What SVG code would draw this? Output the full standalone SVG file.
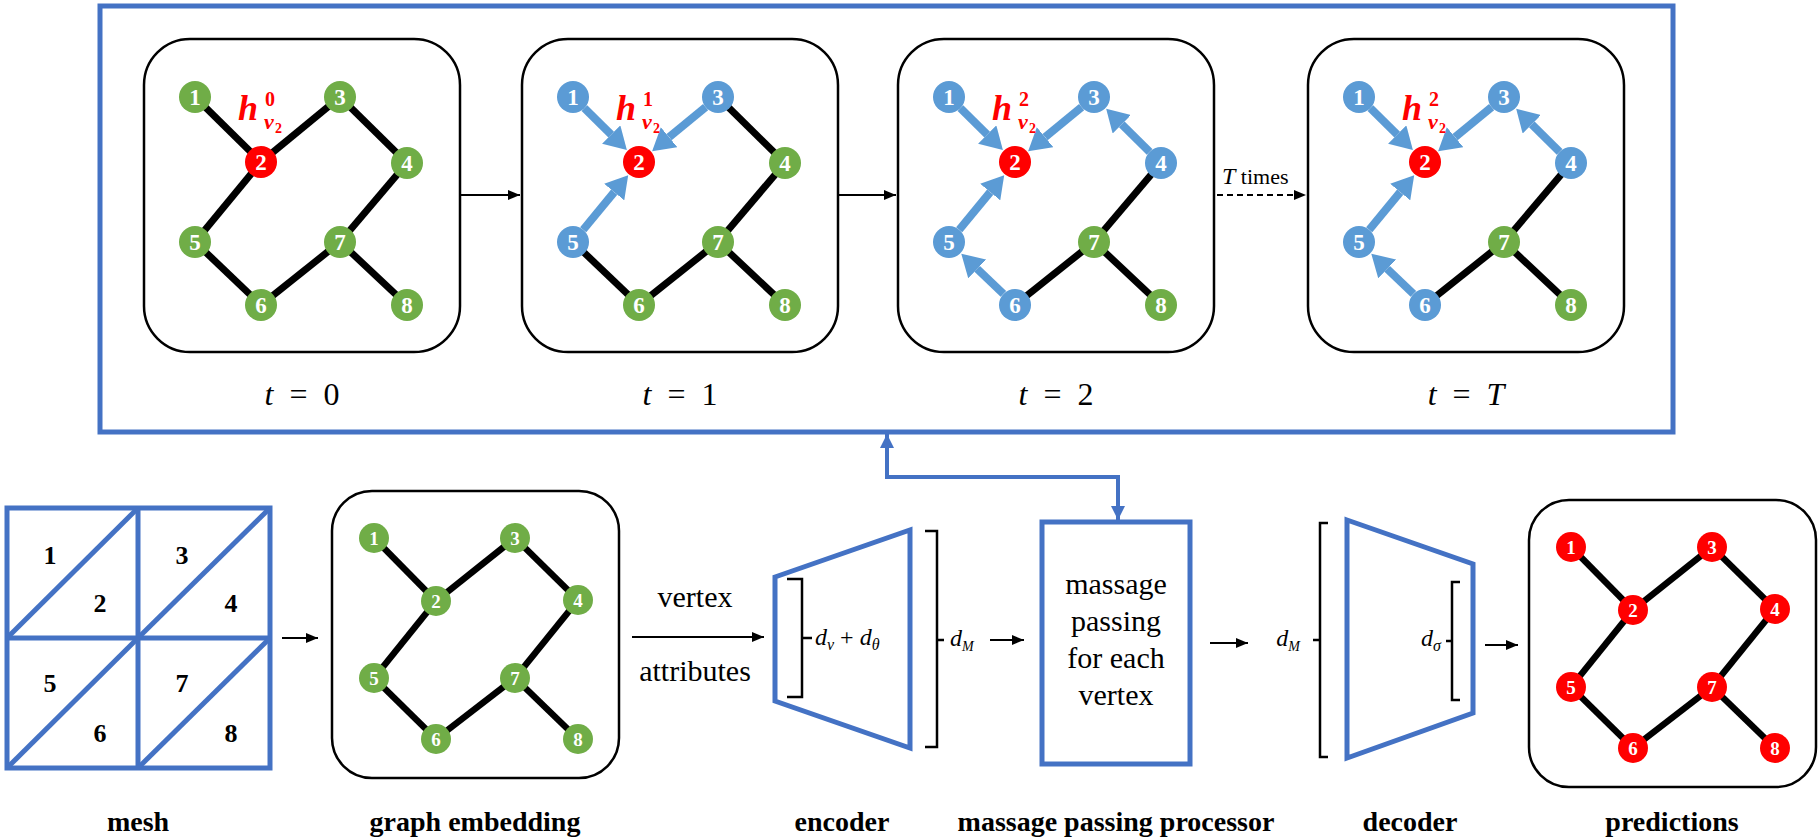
<svg xmlns="http://www.w3.org/2000/svg" width="1820" height="840" viewBox="0 0 1820 840">
<defs>
<marker id="bhead" markerUnits="userSpaceOnUse" viewBox="0 -13 22 26" markerWidth="22" markerHeight="26" refX="0" refY="0" orient="auto"><path d="M0,-13 L22,0 L0,13 Z" fill="#5B9BD5"/></marker>
<marker id="khead" markerUnits="userSpaceOnUse" viewBox="0 -5 12 10" markerWidth="12" markerHeight="10" refX="12" refY="0" orient="auto"><path d="M0,-5 L12,0 L0,5 Z" fill="#000"/></marker>
<marker id="fhead" markerUnits="userSpaceOnUse" viewBox="0 -7 14 14" markerWidth="14" markerHeight="14" refX="14" refY="0" orient="auto-start-reverse"><path d="M0,-7 L14,0 L0,7 Z" fill="#4472C4"/></marker>
</defs>
<style>
.panel{fill:#fff;stroke:#000;stroke-width:2.5}
.edge{stroke:#000;stroke-width:7}
.sedge{stroke:#000;stroke-width:6.5}
.barrow{stroke:#5B9BD5;stroke-width:8;marker-end:url(#bhead)}
.karrow{stroke:#000;stroke-width:2;fill:none;marker-end:url(#khead)}
.gr{fill:#70AD47}.bl{fill:#5B9BD5}.rd{fill:#FF0000}
.nl{font-family:"Liberation Serif",serif;font-weight:bold;fill:#fff;font-size:23px;text-anchor:middle}
.snl{font-family:"Liberation Serif",serif;font-weight:bold;fill:#fff;font-size:19px;text-anchor:middle}
.hl{font-family:"Liberation Serif",serif;font-weight:bold;fill:#FF0000;font-size:36px;font-style:italic}
.tl{font-family:"Liberation Serif",serif;font-size:32px;text-anchor:middle;word-spacing:8px}
.lab{font-family:"Liberation Serif",serif;font-weight:bold;font-size:28px;text-anchor:middle}
.txt{font-family:"Liberation Serif",serif;font-size:30px;text-anchor:middle}
.math{font-family:"Liberation Serif",serif;font-size:24px;font-style:italic}
.blue{fill:none;stroke:#4472C4;stroke-width:5}
.brk{fill:none;stroke:#000;stroke-width:2.5}
.meshn{font-family:"Liberation Serif",serif;font-weight:bold;font-size:26px;text-anchor:middle}
</style>

<g id="frame"><rect x="100" y="6" width="1573" height="426" class="blue"/></g>

<!-- panel t=0 -->
<g id="panel-t0" transform="translate(144,39)">
<rect width="316" height="313" rx="46" class="panel"/>
<line class="edge" x1="51" y1="58" x2="117" y2="123"/>
<line class="edge" x1="117" y1="123" x2="196" y2="58"/>
<line class="edge" x1="196" y1="58" x2="263" y2="124"/>
<line class="edge" x1="117" y1="123" x2="51" y2="203"/>
<line class="edge" x1="263" y1="124" x2="196" y2="203"/>
<line class="edge" x1="51" y1="203" x2="117" y2="266"/>
<line class="edge" x1="117" y1="266" x2="196" y2="203"/>
<line class="edge" x1="196" y1="203" x2="263" y2="266"/>
<g id="t0-n1"><circle cx="51" cy="58" r="16" class="gr"/><text class="nl" x="51" y="66">1</text></g>
<g id="t0-n2"><circle cx="117" cy="123" r="16" class="rd"/><text class="nl" x="117" y="131">2</text></g>
<g id="t0-n3"><circle cx="196" cy="58" r="16" class="gr"/><text class="nl" x="196" y="66">3</text></g>
<g id="t0-n4"><circle cx="263" cy="124" r="16" class="gr"/><text class="nl" x="263" y="132">4</text></g>
<g id="t0-n5"><circle cx="51" cy="203" r="16" class="gr"/><text class="nl" x="51" y="211">5</text></g>
<g id="t0-n6"><circle cx="117" cy="266" r="16" class="gr"/><text class="nl" x="117" y="274">6</text></g>
<g id="t0-n7"><circle cx="196" cy="203" r="16" class="gr"/><text class="nl" x="196" y="211">7</text></g>
<g id="t0-n8"><circle cx="263" cy="266" r="16" class="gr"/><text class="nl" x="263" y="274">8</text></g>
<text class="hl" x="94" y="81">h<tspan x="121" y="67" font-size="20" font-style="normal">0</tspan><tspan x="120" y="90" font-size="22">v</tspan><tspan x="131" y="94" font-size="14" font-style="normal">2</tspan></text>
</g>
<text class="tl" x="302" y="405"><tspan font-style="italic">t</tspan> = 0</text>

<!-- panel t=1 -->
<g id="panel-t1" transform="translate(522,39)">
<rect width="316" height="313" rx="46" class="panel"/>
<line class="edge" x1="196" y1="58" x2="263" y2="124"/>
<line class="edge" x1="263" y1="124" x2="196" y2="203"/>
<line class="edge" x1="51" y1="203" x2="117" y2="266"/>
<line class="edge" x1="117" y1="266" x2="196" y2="203"/>
<line class="edge" x1="196" y1="203" x2="263" y2="266"/>
<line class="barrow" x1="62.4" y1="69.2" x2="89.2" y2="95.6"/>
<line class="barrow" x1="183.6" y1="68.2" x2="147.1" y2="98.2"/>
<line class="barrow" x1="61.2" y1="190.7" x2="92.2" y2="153.1"/>
<g id="t1-n1"><circle cx="51" cy="58" r="16" class="bl"/><text class="nl" x="51" y="66">1</text></g>
<g id="t1-n2"><circle cx="117" cy="123" r="16" class="rd"/><text class="nl" x="117" y="131">2</text></g>
<g id="t1-n3"><circle cx="196" cy="58" r="16" class="bl"/><text class="nl" x="196" y="66">3</text></g>
<g id="t1-n4"><circle cx="263" cy="124" r="16" class="gr"/><text class="nl" x="263" y="132">4</text></g>
<g id="t1-n5"><circle cx="51" cy="203" r="16" class="bl"/><text class="nl" x="51" y="211">5</text></g>
<g id="t1-n6"><circle cx="117" cy="266" r="16" class="gr"/><text class="nl" x="117" y="274">6</text></g>
<g id="t1-n7"><circle cx="196" cy="203" r="16" class="gr"/><text class="nl" x="196" y="211">7</text></g>
<g id="t1-n8"><circle cx="263" cy="266" r="16" class="gr"/><text class="nl" x="263" y="274">8</text></g>
<text class="hl" x="94" y="81">h<tspan x="121" y="67" font-size="20" font-style="normal">1</tspan><tspan x="120" y="90" font-size="22">v</tspan><tspan x="131" y="94" font-size="14" font-style="normal">2</tspan></text>
</g>
<text class="tl" x="680" y="405"><tspan font-style="italic">t</tspan> = 1</text>

<!-- panel t=2 -->
<g id="panel-t2" transform="translate(898,39)">
<rect width="316" height="313" rx="46" class="panel"/>
<line class="edge" x1="263" y1="124" x2="196" y2="203"/>
<line class="edge" x1="117" y1="266" x2="196" y2="203"/>
<line class="edge" x1="196" y1="203" x2="263" y2="266"/>
<line class="barrow" x1="62.4" y1="69.2" x2="89.2" y2="95.6"/>
<line class="barrow" x1="183.6" y1="68.2" x2="147.1" y2="98.2"/>
<line class="barrow" x1="61.2" y1="190.7" x2="92.2" y2="153.1"/>
<line class="barrow" x1="251.6" y1="112.8" x2="223.8" y2="85.3"/>
<line class="barrow" x1="105.4" y1="254.9" x2="79.2" y2="229.9"/>
<g id="t2-n1"><circle cx="51" cy="58" r="16" class="bl"/><text class="nl" x="51" y="66">1</text></g>
<g id="t2-n2"><circle cx="117" cy="123" r="16" class="rd"/><text class="nl" x="117" y="131">2</text></g>
<g id="t2-n3"><circle cx="196" cy="58" r="16" class="bl"/><text class="nl" x="196" y="66">3</text></g>
<g id="t2-n4"><circle cx="263" cy="124" r="16" class="bl"/><text class="nl" x="263" y="132">4</text></g>
<g id="t2-n5"><circle cx="51" cy="203" r="16" class="bl"/><text class="nl" x="51" y="211">5</text></g>
<g id="t2-n6"><circle cx="117" cy="266" r="16" class="bl"/><text class="nl" x="117" y="274">6</text></g>
<g id="t2-n7"><circle cx="196" cy="203" r="16" class="gr"/><text class="nl" x="196" y="211">7</text></g>
<g id="t2-n8"><circle cx="263" cy="266" r="16" class="gr"/><text class="nl" x="263" y="274">8</text></g>
<text class="hl" x="94" y="81">h<tspan x="121" y="67" font-size="20" font-style="normal">2</tspan><tspan x="120" y="90" font-size="22">v</tspan><tspan x="131" y="94" font-size="14" font-style="normal">2</tspan></text>
</g>
<text class="tl" x="1056" y="405"><tspan font-style="italic">t</tspan> = 2</text>

<!-- panel t=T -->
<g id="panel-tT" transform="translate(1308,39)">
<rect width="316" height="313" rx="46" class="panel"/>
<line class="edge" x1="263" y1="124" x2="196" y2="203"/>
<line class="edge" x1="117" y1="266" x2="196" y2="203"/>
<line class="edge" x1="196" y1="203" x2="263" y2="266"/>
<line class="barrow" x1="62.4" y1="69.2" x2="89.2" y2="95.6"/>
<line class="barrow" x1="183.6" y1="68.2" x2="147.1" y2="98.2"/>
<line class="barrow" x1="61.2" y1="190.7" x2="92.2" y2="153.1"/>
<line class="barrow" x1="251.6" y1="112.8" x2="223.8" y2="85.3"/>
<line class="barrow" x1="105.4" y1="254.9" x2="79.2" y2="229.9"/>
<g id="tT-n1"><circle cx="51" cy="58" r="16" class="bl"/><text class="nl" x="51" y="66">1</text></g>
<g id="tT-n2"><circle cx="117" cy="123" r="16" class="rd"/><text class="nl" x="117" y="131">2</text></g>
<g id="tT-n3"><circle cx="196" cy="58" r="16" class="bl"/><text class="nl" x="196" y="66">3</text></g>
<g id="tT-n4"><circle cx="263" cy="124" r="16" class="bl"/><text class="nl" x="263" y="132">4</text></g>
<g id="tT-n5"><circle cx="51" cy="203" r="16" class="bl"/><text class="nl" x="51" y="211">5</text></g>
<g id="tT-n6"><circle cx="117" cy="266" r="16" class="bl"/><text class="nl" x="117" y="274">6</text></g>
<g id="tT-n7"><circle cx="196" cy="203" r="16" class="gr"/><text class="nl" x="196" y="211">7</text></g>
<g id="tT-n8"><circle cx="263" cy="266" r="16" class="gr"/><text class="nl" x="263" y="274">8</text></g>
<text class="hl" x="94" y="81">h<tspan x="121" y="67" font-size="20" font-style="normal">2</tspan><tspan x="120" y="90" font-size="22">v</tspan><tspan x="131" y="94" font-size="14" font-style="normal">2</tspan></text>
</g>
<text class="tl" x="1466" y="405"><tspan font-style="italic">t</tspan> = <tspan font-style="italic">T</tspan></text>

<!-- mesh -->
<g id="mesh">
<rect x="7" y="508" width="263" height="260" class="blue"/>
<line class="blue" x1="138" y1="508" x2="138" y2="768"/>
<line class="blue" x1="7" y1="638" x2="270" y2="638"/>
<line class="blue" x1="7" y1="638" x2="138" y2="508"/>
<line class="blue" x1="138" y1="638" x2="270" y2="508"/>
<line class="blue" x1="7" y1="768" x2="138" y2="638"/>
<line class="blue" x1="138" y1="768" x2="270" y2="638"/>
<text class="meshn" x="50" y="564">1</text><text class="meshn" x="100" y="612">2</text>
<text class="meshn" x="182" y="564">3</text><text class="meshn" x="231" y="612">4</text>
<text class="meshn" x="50" y="692">5</text><text class="meshn" x="100" y="742">6</text>
<text class="meshn" x="182" y="692">7</text><text class="meshn" x="231" y="742">8</text>
</g>
<text class="lab" x="138" y="831">mesh</text>

<!-- graph embedding -->
<g id="graph-embedding" transform="translate(332,491)">
<rect width="287" height="287" rx="40" class="panel"/>
<line class="sedge" x1="42" y1="47" x2="104" y2="110"/>
<line class="sedge" x1="104" y1="110" x2="183" y2="47"/>
<line class="sedge" x1="183" y1="47" x2="246" y2="109"/>
<line class="sedge" x1="104" y1="110" x2="42" y2="187"/>
<line class="sedge" x1="246" y1="109" x2="183" y2="187"/>
<line class="sedge" x1="42" y1="187" x2="104" y2="248"/>
<line class="sedge" x1="104" y1="248" x2="183" y2="187"/>
<line class="sedge" x1="183" y1="187" x2="246" y2="248"/>
<g id="ge-n1"><circle cx="42" cy="47" r="15" class="gr"/><text class="snl" x="42" y="54">1</text></g>
<g id="ge-n2"><circle cx="104" cy="110" r="15" class="gr"/><text class="snl" x="104" y="117">2</text></g>
<g id="ge-n3"><circle cx="183" cy="47" r="15" class="gr"/><text class="snl" x="183" y="54">3</text></g>
<g id="ge-n4"><circle cx="246" cy="109" r="15" class="gr"/><text class="snl" x="246" y="116">4</text></g>
<g id="ge-n5"><circle cx="42" cy="187" r="15" class="gr"/><text class="snl" x="42" y="194">5</text></g>
<g id="ge-n6"><circle cx="104" cy="248" r="15" class="gr"/><text class="snl" x="104" y="255">6</text></g>
<g id="ge-n7"><circle cx="183" cy="187" r="15" class="gr"/><text class="snl" x="183" y="194">7</text></g>
<g id="ge-n8"><circle cx="246" cy="248" r="15" class="gr"/><text class="snl" x="246" y="255">8</text></g>
</g>
<text class="lab" x="475" y="831">graph embedding</text>

<!-- vertex attributes -->
<text class="txt" x="695" y="607">vertex</text>
<text class="txt" x="695" y="681">attributes</text>

<!-- encoder -->
<g id="encoder">
<polygon points="775,577 910,530 910,748 775,701" class="blue"/>
<path class="brk" d="M787,579 H802 V697 H787 M802,638 H812"/>
<text class="math" x="815" y="645">d<tspan font-size="16" dy="5">v</tspan><tspan font-style="normal" dy="-5"> + </tspan>d<tspan font-size="16" dy="5">θ</tspan></text>
<path class="brk" d="M925,531 H937 V747 H925 M937,640 H944"/>
<text class="math" x="950" y="646">d<tspan font-size="14" dy="5">M</tspan></text>
</g>
<text class="lab" x="842" y="831">encoder</text>

<!-- massage passing box -->
<g id="processor">
<rect x="1042" y="522" width="148" height="242" class="blue"/>
<text class="txt" x="1116" y="594">massage</text>
<text class="txt" x="1116" y="631">passing</text>
<text class="txt" x="1116" y="668">for each</text>
<text class="txt" x="1116" y="705">vertex</text>
</g>
<text class="lab" x="1116" y="831">massage passing processor</text>

<!-- decoder -->
<g id="decoder">
<path class="brk" d="M1328,523 H1320 V757 H1328 M1320,640 H1313"/>
<text class="math" x="1300" y="646" text-anchor="end">d<tspan font-size="14" dy="5">M</tspan></text>
<polygon points="1347,520 1473,564 1473,713 1347,758" class="blue"/>
<path class="brk" d="M1460,582 H1452 V700 H1460 M1452,641 H1446"/>
<text class="math" x="1441" y="646" text-anchor="end">d<tspan font-size="16" dy="5">σ</tspan></text>
</g>
<text class="lab" x="1410" y="831">decoder</text>

<!-- predictions -->
<g id="predictions" transform="translate(1529,500)">
<rect width="287" height="287" rx="40" class="panel"/>
<line class="sedge" x1="42" y1="47" x2="104" y2="110"/>
<line class="sedge" x1="104" y1="110" x2="183" y2="47"/>
<line class="sedge" x1="183" y1="47" x2="246" y2="109"/>
<line class="sedge" x1="104" y1="110" x2="42" y2="187"/>
<line class="sedge" x1="246" y1="109" x2="183" y2="187"/>
<line class="sedge" x1="42" y1="187" x2="104" y2="248"/>
<line class="sedge" x1="104" y1="248" x2="183" y2="187"/>
<line class="sedge" x1="183" y1="187" x2="246" y2="248"/>
<g id="pr-n1"><circle cx="42" cy="47" r="15" class="rd"/><text class="snl" x="42" y="54">1</text></g>
<g id="pr-n2"><circle cx="104" cy="110" r="15" class="rd"/><text class="snl" x="104" y="117">2</text></g>
<g id="pr-n3"><circle cx="183" cy="47" r="15" class="rd"/><text class="snl" x="183" y="54">3</text></g>
<g id="pr-n4"><circle cx="246" cy="109" r="15" class="rd"/><text class="snl" x="246" y="116">4</text></g>
<g id="pr-n5"><circle cx="42" cy="187" r="15" class="rd"/><text class="snl" x="42" y="194">5</text></g>
<g id="pr-n6"><circle cx="104" cy="248" r="15" class="rd"/><text class="snl" x="104" y="255">6</text></g>
<g id="pr-n7"><circle cx="183" cy="187" r="15" class="rd"/><text class="snl" x="183" y="194">7</text></g>
<g id="pr-n8"><circle cx="246" cy="248" r="15" class="rd"/><text class="snl" x="246" y="255">8</text></g>
</g>
<text class="lab" x="1672" y="831">predictions</text>

<!-- connectors -->
<g id="connectors">
<line class="karrow" x1="461" y1="195" x2="520" y2="195"/>
<line class="karrow" x1="839" y1="195" x2="896" y2="195"/>
<line class="karrow" x1="1217" y1="195" x2="1306" y2="195" stroke-dasharray="6 4"/>
<text class="math" x="1222" y="184">T<tspan font-style="normal" font-size="22">  times</tspan></text>
<line class="karrow" x1="282" y1="638" x2="318" y2="638"/>
<line class="karrow" x1="632" y1="637" x2="764" y2="637"/>
<line class="karrow" x1="990" y1="640" x2="1024" y2="640"/>
<line class="karrow" x1="1210" y1="643" x2="1248" y2="643"/>
<line class="karrow" x1="1485" y1="645" x2="1518" y2="645"/>
<path d="M887,434 V477 H1118 V520" fill="none" stroke="#4472C4" stroke-width="4" marker-start="url(#fhead)" marker-end="url(#fhead)"/>
</g>
</svg>
